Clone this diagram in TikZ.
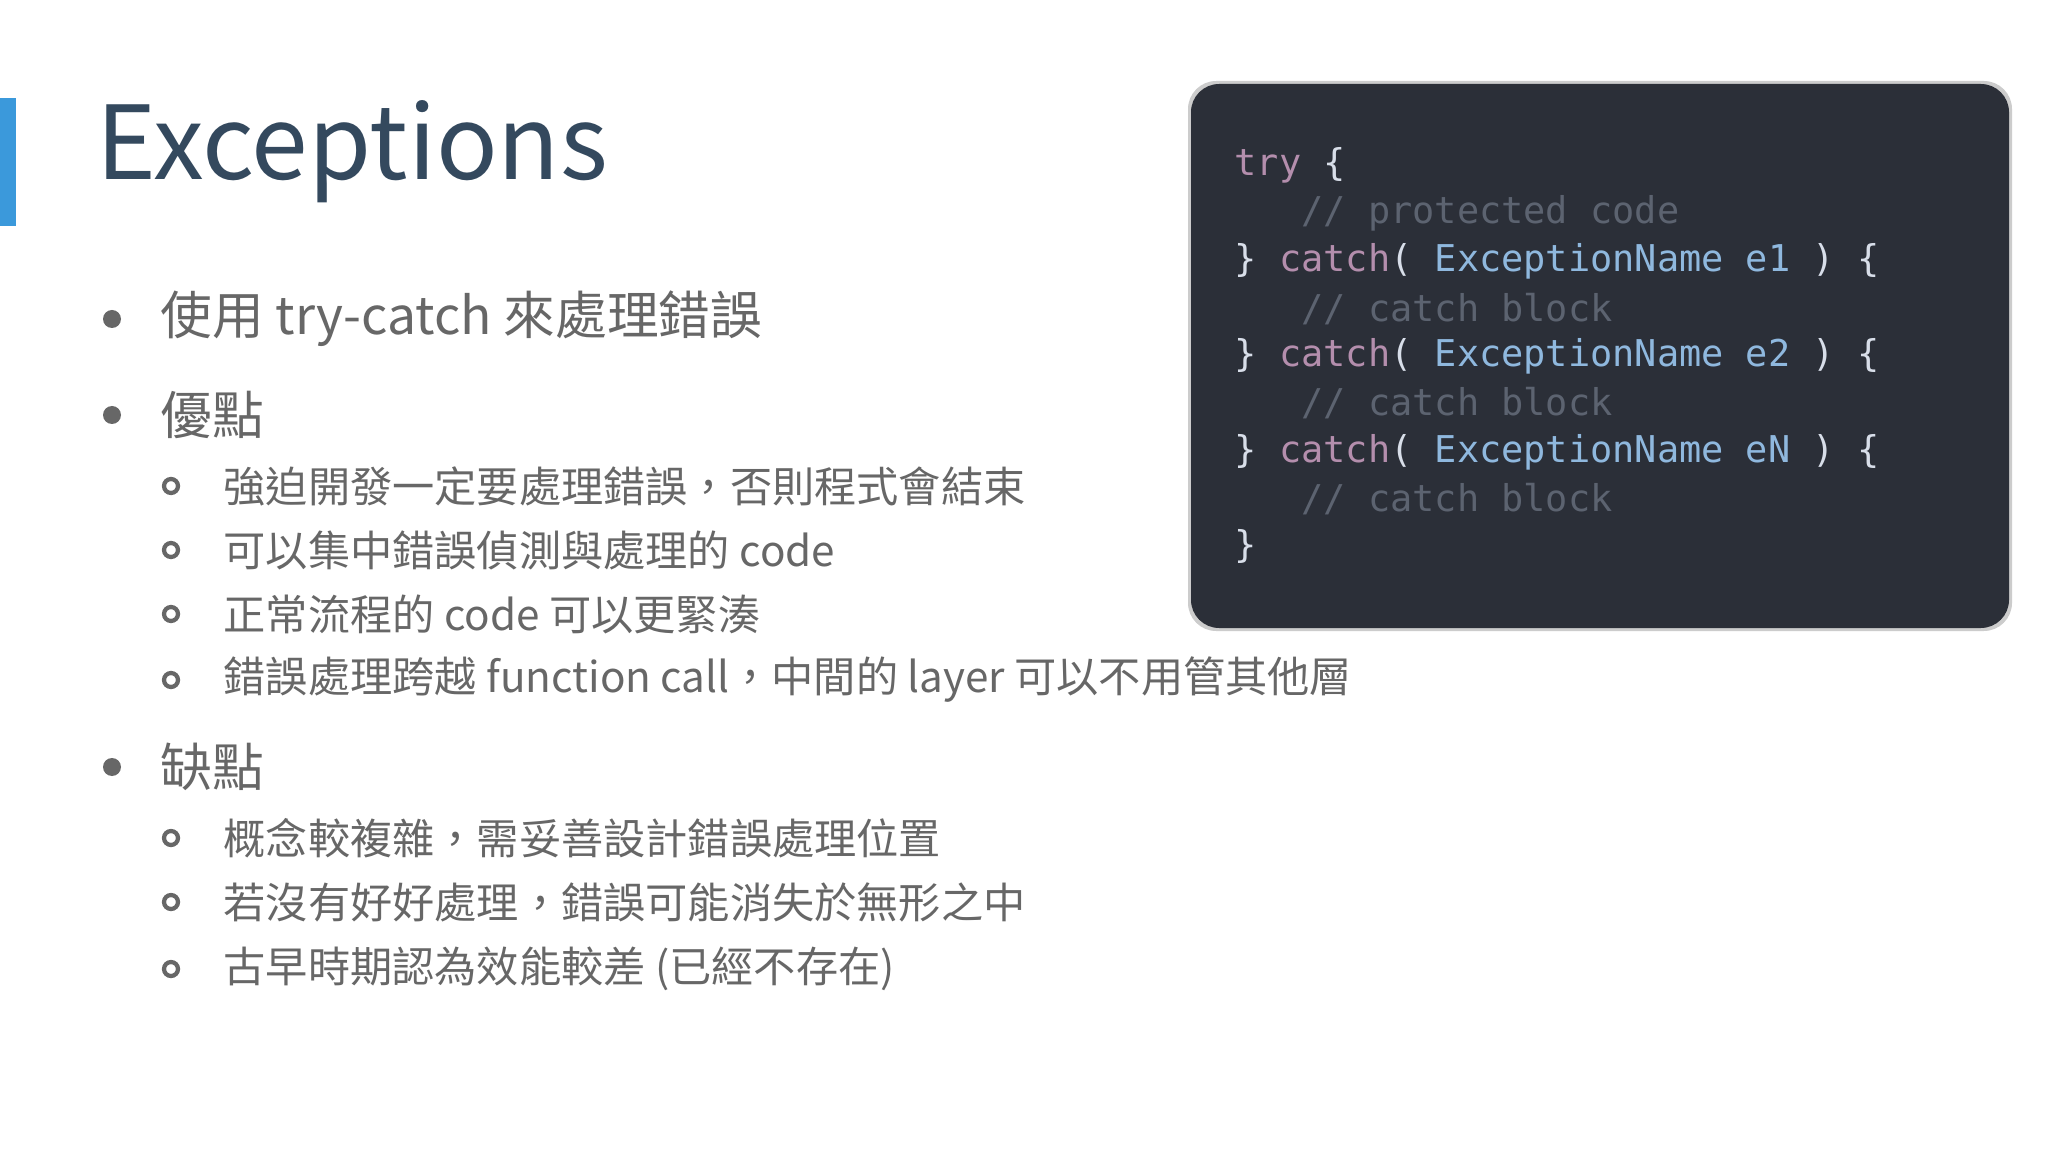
\documentclass[tikz,border=0pt]{standalone}
\usepackage{fontspec}
\setmainfont{Noto Sans CJK TC}
\newfontfamily\codefont{DejaVu Sans Mono}
\definecolor{codefg}{HTML}{D8DEE9}
\definecolor{kw}{HTML}{B48EAD}
\definecolor{ty}{HTML}{8FB8DE}
\definecolor{cm}{HTML}{5C6370}
\definecolor{titlec}{HTML}{34495E}
\definecolor{codebg}{HTML}{2B2F38}
\begin{document}
\begin{tikzpicture}[x=0.01cm,y=-0.01cm,
  txt/.style={anchor=west,inner sep=0,text=gray!30!black!70},
  lvone/.style={txt,font=\fontsize{14.7}{16}\selectfont},
  lvtwo/.style={txt,font=\fontsize{12}{14}\selectfont},
  code/.style={anchor=west,inner sep=0,font=\codefont\fontsize{10.5}{12}\selectfont,text=codefg}]
\useasboundingbox (0,0) rectangle (2048,1152);
\fill[white] (0,0) rectangle (2048,1152);
\fill[cyan!70!blue!80] (0,98) rectangle (16,226);
\node[txt,text=titlec,font=\fontsize{29}{32}\selectfont] (title) at (96,152) {Exceptions};
\foreach \y in {319,415,767} \fill[gray!30!black!70] (112,\y) circle (9);
\foreach \y in {486,550,614,680,838,902,969} \draw[gray!30!black!70,line width=1.2pt] (171,\y) circle (7);
\node[lvone] (b1) at (160,319) {使用 try-catch 來處理錯誤};
\node[lvone] (b2) at (160,415) {優點};
\node[lvtwo] (s1) at (223,486) {強迫開發一定要處理錯誤，否則程式會結束};
\node[lvtwo] (s2) at (223,550) {可以集中錯誤偵測與處理的 code};
\node[lvtwo] (s3) at (223,614) {正常流程的 code 可以更緊湊};
\node[lvtwo] (s4) at (223,680) {錯誤處理跨越 function call，中間的 layer 可以不用管其他層};
\node[lvone] (b3) at (160,767) {缺點};
\node[lvtwo] (s5) at (223,838) {概念較複雜，需妥善設計錯誤處理位置};
\node[lvtwo] (s6) at (223,902) {若沒有好好處理，錯誤可能消失於無形之中};
\node[lvtwo] (s7) at (223,969) {古早時期認為效能較差 (已經不存在)};
\fill[gray!40,rounded corners=8] (1188,81) rectangle (2012,631);
\fill[codebg,rounded corners=8] (1191,84) rectangle (2009,628);
\node[code] (c1) at (1234,165) {\textcolor{kw}{try} \{};
\node[code] (c2) at (1234,213) {\textcolor{cm}{~~~// protected code}};
\node[code] (c3) at (1234,261) {\} \textcolor{kw}{catch}( \textcolor{ty}{ExceptionName e1} ) \{};
\node[code] (c4) at (1234,309) {\textcolor{cm}{~~~// catch block}};
\node[code] (c5) at (1234,356) {\} \textcolor{kw}{catch}( \textcolor{ty}{ExceptionName e2} ) \{};
\node[code] (c6) at (1234,403) {\textcolor{cm}{~~~// catch block}};
\node[code] (c7) at (1234,452) {\} \textcolor{kw}{catch}( \textcolor{ty}{ExceptionName eN} ) \{};
\node[code] (c8) at (1234,499) {\textcolor{cm}{~~~// catch block}};
\node[code] (c9) at (1234,546) {\}};
\end{tikzpicture}
\end{document}
